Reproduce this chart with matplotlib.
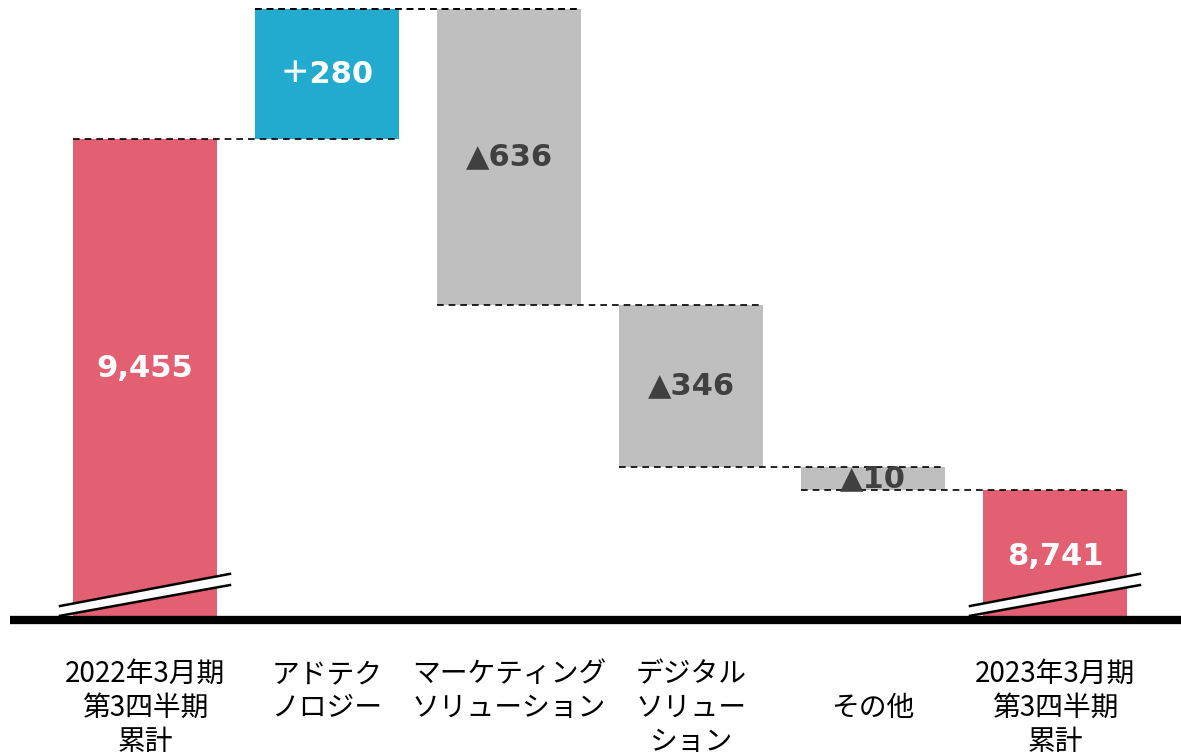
import matplotlib
matplotlib.use("Agg")
import matplotlib.pyplot as plt

plt.rcParams['font.family'] = ['Noto Sans CJK JP', 'DejaVu Sans']

# ---- data ----
categories = ["2022年3月期\n第3四半期\n累計", "アドテク\nノロジー", "マーケティング\nソリューション",
              "デジタル\nソリュー\nション", "\nその他", "2023年3月期\n第3四半期\n累計"]
values = [9455, 280, -636, -346, -10, 8741]
value_labels = ["9,455", "＋280", "▲636", "▲346", "▲10", "8,741"]
kinds = ["total", "up", "down", "down", "down", "total"]

colors = {"total": "#E35F72", "up": "#23ABCF", "down": "#BFBFBF"}
text_colors = {"total": "white", "up": "white", "down": "#404040"}

Y_MIN, Y_MAX = 8424, 9754
MIN_STEP = 50  # tiny steps get a minimum visible height

# ---- compute bar geometry ----
bottoms, heights, levels = [], [], []
level = 0
for v, k in zip(values, kinds):
    if k == "total":
        if level == 0:
            level = v
        bottoms.append(Y_MIN)
        heights.append(level - Y_MIN)
    else:
        step = v if abs(v) >= MIN_STEP else (MIN_STEP if v > 0 else -MIN_STEP)
        new = level + step
        bottoms.append(min(level, new))
        heights.append(abs(step))
        level = new
    levels.append(level)

fig = plt.figure(figsize=(11.81, 7.56), dpi=100)
W, H = 1181, 756
ax = fig.add_axes([10 / W, (H - 620) / H, (1181 - 10) / W, 620 / H])
ax.set_xlim((10 - 145) / 182, (1181 - 145) / 182)
ax.set_ylim(Y_MIN, Y_MAX)
ax.axis("off")

bw = 144 / 182
x = list(range(len(values)))
ax.bar(x, heights, bottom=bottoms, width=bw,
       color=[colors[k] for k in kinds], zorder=2)

# dashed connectors
dash = dict(color="black", lw=1.2, ls=(0, (4, 3)), zorder=3)
for i in range(len(values) - 1):
    ax.plot([i - bw / 2, i + 1 + bw / 2], [levels[i], levels[i]], **dash)
# top connector of the increase bar
ax.plot([1 - bw / 2, 2 + bw / 2], [levels[1], levels[1]], **dash)

# value labels
for i, (lab, k) in enumerate(zip(value_labels, kinds)):
    if k == "total":
        frac = 0.524 if i == 0 else 0.49
        yc = Y_MIN + frac * heights[i]
    else:
        yc = bottoms[i] + heights[i] / 2
    ax.text(i, yc, lab, ha="center", va="center", fontsize=22, fontweight="bold",
            color=text_colors[k], family=["DejaVu Sans", "Noto Sans CJK JP"], zorder=4)

# broken-axis marks on total bars
for i, k in enumerate(kinds):
    if k != "total":
        continue
    x0, x1 = i - 0.467, i + 0.467
    up = [Y_MIN + 30, Y_MIN + 99]
    lo = [Y_MIN + 9, Y_MIN + 75]
    ax.fill([x0, x1, x1, x0], [up[0], up[1], lo[1], lo[0]], color="white", zorder=5)
    ax.plot([x0, x1], up, color="black", lw=1.8, zorder=6)
    ax.plot([x0, x1], lo, color="black", lw=1.8, zorder=6)

# baseline
ax.plot([(10 - 145) / 182, (1181 - 145) / 182], [Y_MIN, Y_MIN],
        color="black", lw=6, solid_capstyle="butt", zorder=7, clip_on=False)

# category labels
for i, cat in enumerate(categories):
    ax.annotate(cat, xy=(i, Y_MIN), xycoords="data", xytext=(0, -39),
                textcoords="offset pixels", ha="center", va="top",
                fontsize=20, linespacing=1.18, color="black")

fig.savefig("out.png", dpi=100)
